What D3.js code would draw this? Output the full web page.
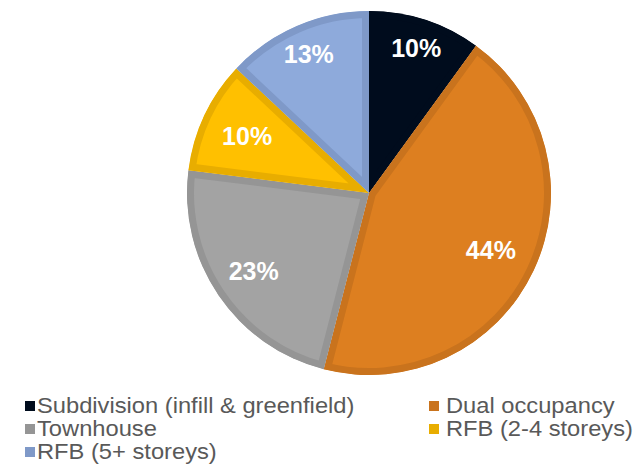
<!DOCTYPE html>
<html><head><meta charset="utf-8">
<script src="https://cdn.jsdelivr.net/npm/d3@7"></script>
<style>html,body{margin:0;padding:0;background:#fff;}svg{display:block;}</style>
</head><body>
<svg id="chart" width="635" height="464"></svg>
<script>
const categories = ["Subdivision (infill & greenfield)", "Dual occupancy", "Townhouse", "RFB (2-4 storeys)", "RFB (5+ storeys)"];
const values = [10, 44, 23, 10, 13];
const labels = ["10%", "44%", "23%", "10%", "13%"];
const fills = ["#000c1d", "#dd7f20", "#a3a3a3", "#ffc000", "#8eaadb"];
const borders = ["#000c1d", "#c9731d", "#959595", "#e8ad00", "#7f99c8"];

const svg = d3.select("#chart");
const cx = 369, cy = 193, R = 182, border = 7;
const font = "'Liberation Sans', Arial, sans-serif";

const pie = d3.pie().sort(null).value(d => d)(values);
const arc = d3.arc().innerRadius(0).outerRadius(R);
const g = svg.append("g").attr("transform", `translate(${cx},${cy})`);
const defs = svg.append("defs");

pie.forEach((p, i) => {
  defs.append("clipPath").attr("id", "clip" + i)
    .append("path").attr("d", arc(p));
  g.append("path").attr("d", arc(p))
    .attr("fill", fills[i])
    .attr("stroke", borders[i])
    .attr("stroke-width", border * 2)
    .attr("stroke-linejoin", "miter")
    .attr("clip-path", `url(#clip${i})`);
});

// data labels
pie.forEach((p, i) => {
  const a = (p.startAngle + p.endAngle) / 2;
  const r = 120 + 34.5 * Math.abs(Math.cos(a));
  const x = r * Math.sin(a), y = -r * Math.cos(a);
  g.append("text")
    .attr("x", x).attr("y", y)
    .attr("text-anchor", "middle")
    .attr("dy", "0.36em")
    .attr("fill", "#ffffff")
    .attr("font-family", font)
    .attr("font-weight", "bold")
    .attr("font-size", "25px")
    .text(labels[i]);
});

// legend
const markX = [25, 429];
const textX = [37, 446];
const rowY = [413, 436, 459];
categories.forEach((c, i) => {
  const col = i % 2, row = Math.floor(i / 2);
  svg.append("rect").attr("x", markX[col]).attr("y", rowY[row] - 12).attr("width", 10).attr("height", 10)
    .attr("fill", borders[i]);
  svg.append("text")
    .attr("transform", `translate(${textX[col]},${rowY[row]}) scale(1,0.92)`)
    .attr("fill", "#595959")
    .attr("font-family", font)
    .attr("font-size", "23.7px")
    .text(c);
});
</script>
</body></html>
